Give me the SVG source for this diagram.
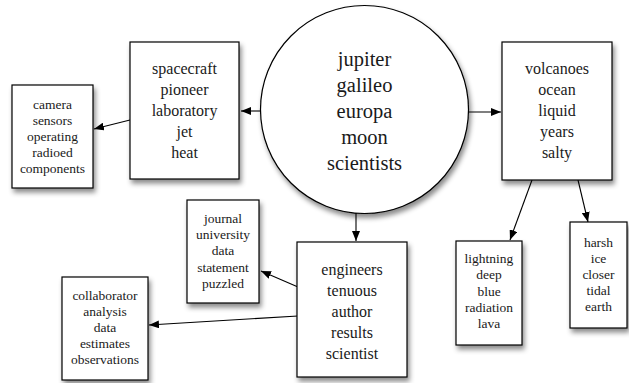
<svg xmlns="http://www.w3.org/2000/svg" width="629" height="383" viewBox="0 0 629 383">
<style>
.n{fill:#fff;stroke:#000;stroke-width:1.2;filter:url(#sh)}
text{font-family:'Liberation Serif','DejaVu Serif','Times New Roman',serif;text-anchor:middle;fill:#1a1a1a}
.big{font-size:20.5px}
.mid{font-size:16px}
.sm{font-size:13.5px}
.c{fill:none;stroke:#000;stroke-width:1.1;marker-end:url(#ah)}
</style>
<defs>
<filter id="sh" x="-20%" y="-20%" width="150%" height="150%">
<feDropShadow dx="2" dy="4" stdDeviation="2.5" flood-color="#000" flood-opacity="0.45"/>
</filter>
<marker id="ah" viewBox="0 0 10 8" refX="10" refY="4" markerWidth="10" markerHeight="8" markerUnits="userSpaceOnUse" orient="auto">
<path d="M0,0 L10,4 L0,8 Z" fill="#000"/>
</marker>
</defs>
<rect width="629" height="383" fill="#fff"/>
<g id="connectors">
<line class="c" x1="261" y1="111" x2="241" y2="111"/>
<line class="c" x1="130" y1="120" x2="94" y2="129"/>
<line class="c" x1="468" y1="112" x2="501" y2="112"/>
<line class="c" x1="356" y1="213" x2="356" y2="241"/>
<line class="c" x1="298" y1="287" x2="261" y2="271"/>
<line class="c" x1="298" y1="316" x2="149" y2="325"/>
<line class="c" x1="532" y1="180" x2="510" y2="240"/>
<line class="c" x1="578" y1="180" x2="588" y2="222"/>
</g>
<g id="center">
<circle class="n" cx="364.5" cy="109.5" r="104"/>
<text class="big" font-family="Liberation Serif, DejaVu Serif, serif"><tspan x="364.5" y="66">jupiter</tspan><tspan x="364.5" y="92">galileo</tspan><tspan x="364.5" y="118">europa</tspan><tspan x="364.5" y="144">moon</tspan><tspan x="364.5" y="170">scientists</tspan></text>
</g>
<g id="spacecraft">
<rect class="n" x="130" y="42" width="109" height="137"/>
<text class="mid" font-family="Liberation Serif, DejaVu Serif, serif"><tspan x="184.5" y="74">spacecraft</tspan><tspan x="184.5" y="95">pioneer</tspan><tspan x="184.5" y="116">laboratory</tspan><tspan x="184.5" y="137">jet</tspan><tspan x="184.5" y="158">heat</tspan></text>
</g>
<g id="camera">
<rect class="n" x="12" y="85" width="81" height="103"/>
<text class="sm" font-family="Liberation Serif, DejaVu Serif, serif"><tspan x="52.5" y="109">camera</tspan><tspan x="52.5" y="125">sensors</tspan><tspan x="52.5" y="141">operating</tspan><tspan x="52.5" y="157">radioed</tspan><tspan x="52.5" y="173">components</tspan></text>
</g>
<g id="volcanoes">
<rect class="n" x="502" y="42" width="110" height="138"/>
<text class="mid" font-family="Liberation Serif, DejaVu Serif, serif"><tspan x="557" y="74">volcanoes</tspan><tspan x="557" y="95">ocean</tspan><tspan x="557" y="116">liquid</tspan><tspan x="557" y="137">years</tspan><tspan x="557" y="158">salty</tspan></text>
</g>
<g id="lightning">
<rect class="n" x="456" y="241" width="66" height="104"/>
<text class="sm" font-family="Liberation Serif, DejaVu Serif, serif"><tspan x="489" y="263">lightning</tspan><tspan x="489" y="279">deep</tspan><tspan x="489" y="296">blue</tspan><tspan x="489" y="312">radiation</tspan><tspan x="489" y="328">lava</tspan></text>
</g>
<g id="harsh">
<rect class="n" x="570" y="222" width="57" height="106"/>
<text class="sm" font-family="Liberation Serif, DejaVu Serif, serif"><tspan x="598.5" y="247">harsh</tspan><tspan x="598.5" y="263">ice</tspan><tspan x="598.5" y="279">closer</tspan><tspan x="598.5" y="295">tidal</tspan><tspan x="598.5" y="311">earth</tspan></text>
</g>
<g id="engineers">
<rect class="n" x="297" y="242" width="110" height="135"/>
<text class="mid" font-family="Liberation Serif, DejaVu Serif, serif"><tspan x="352" y="275">engineers</tspan><tspan x="352" y="296">tenuous</tspan><tspan x="352" y="317">author</tspan><tspan x="352" y="338">results</tspan><tspan x="352" y="359">scientist</tspan></text>
</g>
<g id="journal">
<rect class="n" x="187" y="200" width="72" height="103"/>
<text class="sm" font-family="Liberation Serif, DejaVu Serif, serif"><tspan x="223" y="223">journal</tspan><tspan x="223" y="239">university</tspan><tspan x="223" y="255">data</tspan><tspan x="223" y="272">statement</tspan><tspan x="223" y="288">puzzled</tspan></text>
</g>
<g id="collaborator">
<rect class="n" x="62" y="277" width="86" height="103"/>
<text class="sm" font-family="Liberation Serif, DejaVu Serif, serif"><tspan x="105" y="300">collaborator</tspan><tspan x="105" y="316">analysis</tspan><tspan x="105" y="332">data</tspan><tspan x="105" y="348">estimates</tspan><tspan x="105" y="364">observations</tspan></text>
</g>
</svg>
